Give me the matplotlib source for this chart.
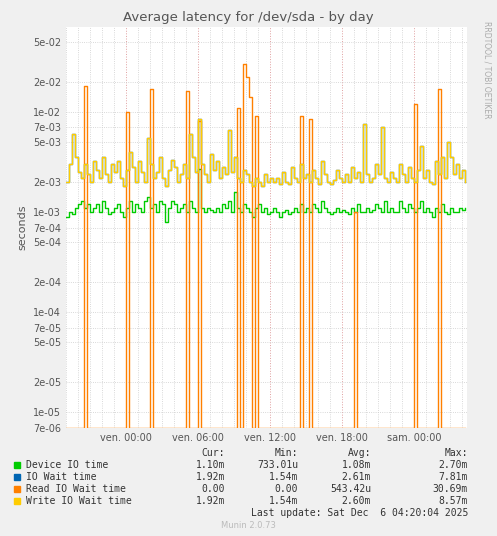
import numpy as np
import matplotlib.pyplot as plt
from matplotlib.ticker import FixedLocator, NullLocator, FixedFormatter

# 15-minute samples starting Thu 19:00 (hours since start)
device_ms = [0.9,1.0,0.95,1.1,1.2,1.3,1.1,1.2,1.0,1.1,
             1.2,1.0,1.3,1.1,0.95,1.0,1.1,1.2,1.0,0.9,
             1.1,1.3,1.0,1.2,1.1,1.0,1.3,1.4,1.1,1.2,
             1.0,1.3,1.2,0.8,1.1,1.3,1.2,1.0,1.1,1.2,
             1.0,1.3,1.1,1.0,2.7,1.1,1.0,1.1,1.05,1.0,
             1.1,1.0,1.2,1.1,1.3,1.0,1.6,1.1,1.0,1.2,
             1.1,1.0,0.9,1.1,1.2,1.0,1.1,0.95,1.0,1.1,
             1.0,0.9,1.0,1.05,0.95,1.0,1.1,1.0,1.2,1.0,
             1.1,1.0,1.2,1.1,1.0,1.3,1.1,1.0,0.95,1.0,
             1.1,1.0,1.05,1.0,0.95,1.1,1.0,1.2,1.0,1.0,
             1.1,1.0,1.05,1.2,1.1,1.0,1.3,1.0,1.1,1.0,
             1.0,1.3,1.1,1.0,1.2,1.1,1.0,1.1,1.3,1.0,
             1.1,1.0,0.9,1.1,1.0,1.2,1.0,0.95,1.1,1.0,
             1.0,1.1,1.05,1.1]
write_ms = [2.0,3.0,6.0,3.5,2.5,2.2,3.0,2.4,2.0,3.2,
            2.6,2.2,3.5,2.4,2.0,3.0,2.5,3.2,2.2,1.8,
            2.6,4.0,2.8,2.0,3.2,2.5,2.0,5.5,3.0,2.2,
            2.5,3.5,2.2,1.8,2.6,3.3,2.8,2.0,2.4,3.0,
            2.2,6.0,3.5,2.5,8.5,3.0,2.4,2.0,3.8,2.6,
            3.2,2.2,2.8,2.4,6.5,2.5,3.5,2.2,2.0,2.6,
            2.4,2.0,1.8,2.2,2.0,1.8,2.4,2.0,2.2,2.0,
            2.2,1.9,2.5,2.0,1.9,2.8,2.2,2.0,3.0,2.2,
            2.4,2.0,2.6,2.2,1.9,3.2,2.4,2.0,1.9,2.1,
            2.6,2.2,2.0,2.4,2.0,2.8,2.2,2.5,2.0,7.5,
            2.4,2.0,2.2,3.0,2.4,7.0,2.2,2.0,2.5,2.2,
            2.0,3.0,2.4,2.0,2.8,2.2,2.0,2.6,4.5,2.2,
            2.6,2.0,1.9,3.2,2.4,3.5,2.2,5.0,3.5,2.4,
            3.0,2.2,2.6,2.0]
io_wait_ms = list(write_ms)
read_spike_hours = [1.5, 5.0, 7.0, 10.0, 11.0, 14.25, 14.75, 15.0, 15.25, 15.75, 19.5, 20.25, 24.0, 29.0, 31.0]
read_spike_ms = [18, 10, 17, 16, 8, 11, 30, 22, 14, 9, 9, 8.5, 1.0, 12, 17]

t = np.arange(len(device_ms)) * 0.25
read_ms = np.zeros(len(t))
for h, v in zip(read_spike_hours, read_spike_ms):
    read_ms[int(round(h * 4))] = v

ymin = 7e-6
fig = plt.figure(figsize=(4.97, 5.36), dpi=100, facecolor='#F0F0F0')
ax = fig.add_axes([66/497, 1 - 428/536, 401/497, 401/536])
ax.set_facecolor('white')

ax.step(t, np.array(device_ms) / 1000, where='post', color='#00CC00', lw=1)
ax.step(t, np.array(io_wait_ms) / 1000, where='post', color='#0066B3', lw=1)
ax.step(t, np.maximum(read_ms / 1000, ymin), where='post', color='#FF8000', lw=1)
ax.step(t, np.array(write_ms) / 1000, where='post', color='#FFCC00', lw=1)

ax.set_yscale('log')
ax.set_ylim(ymin, 0.07)
ax.set_xlim(0, 33.4)
yt = [7e-6, 1e-5, 2e-5, 5e-5, 7e-5, 1e-4, 2e-4, 5e-4, 7e-4, 1e-3, 2e-3, 5e-3, 7e-3, 1e-2, 2e-2, 5e-2]
ax.yaxis.set_major_locator(FixedLocator(yt))
ax.yaxis.set_major_formatter(FixedFormatter(['%.0e' % v for v in yt]))
ax.yaxis.set_minor_locator(NullLocator())
ax.set_xticks([5, 11, 17, 23, 29])
ax.set_xticklabels(['ven. 00:00', 'ven. 06:00', 'ven. 12:00', 'ven. 18:00', 'sam. 00:00'])
ax.set_xticks(np.arange(0, 33.5, 1), minor=True)
ax.tick_params(labelsize=7, colors='#555555', length=0, which='both')
ax.grid(True, which='both', color='#CCCCCC', ls=':', lw=0.6)
ax.grid(True, which='major', axis='x', color='#E0A0A0', ls=':', lw=0.7)
for s in ax.spines.values():
    s.set_visible(False)
ax.set_ylabel('seconds', fontsize=8, color='#555555')

fig.text(0.5, 1 - 18/536, 'Average latency for /dev/sda - by day', ha='center', va='center', fontsize=9.5, color='#555555')
fig.text(487/497, 1 - 70/536, 'RRDTOOL / TOBI OETIKER', rotation=270, ha='center', va='center', fontsize=5.5, color='#AAAAAA')

rows = [('Device IO time', '#00CC00', '1.10m', '733.01u', '1.08m', '2.70m'),
        ('IO Wait time', '#0066B3', '1.92m', '1.54m', '2.61m', '7.81m'),
        ('Read IO Wait time', '#FF8000', '0.00', '0.00', '543.42u', '30.69m'),
        ('Write IO Wait time', '#FFCC00', '1.92m', '1.54m', '2.60m', '8.57m')]
fp = dict(fontsize=7, family='DejaVu Sans Mono', color='#333333')
ypx = 453
for lab, x in [('Cur:', 225), ('Min:', 298), ('Avg:', 371), ('Max:', 468)]:
    fig.text(x/497, 1 - ypx/536, lab, ha='right', va='center', **fp)
for i, (name, col, *vals) in enumerate(rows):
    y = 1 - (ypx + 12 * (i + 1)) / 536
    fig.patches.append(plt.Rectangle((14/497, y - 3/536), 6/497, 6/536, transform=fig.transFigure, color=col))
    fig.text(26/497, y, name, ha='left', va='center', **fp)
    for v, x in zip(vals, [225, 298, 371, 468]):
        fig.text(x/497, y, v, ha='right', va='center', **fp)
fig.text(468/497, 1 - 513/536, 'Last update: Sat Dec  6 04:20:04 2025', ha='right', va='center', **fp)
fig.text(0.5, 1 - 526/536, 'Munin 2.0.73', ha='center', va='center', fontsize=6, color='#BBBBBB')

fig.savefig('out.png', dpi=100, facecolor=fig.get_facecolor())
